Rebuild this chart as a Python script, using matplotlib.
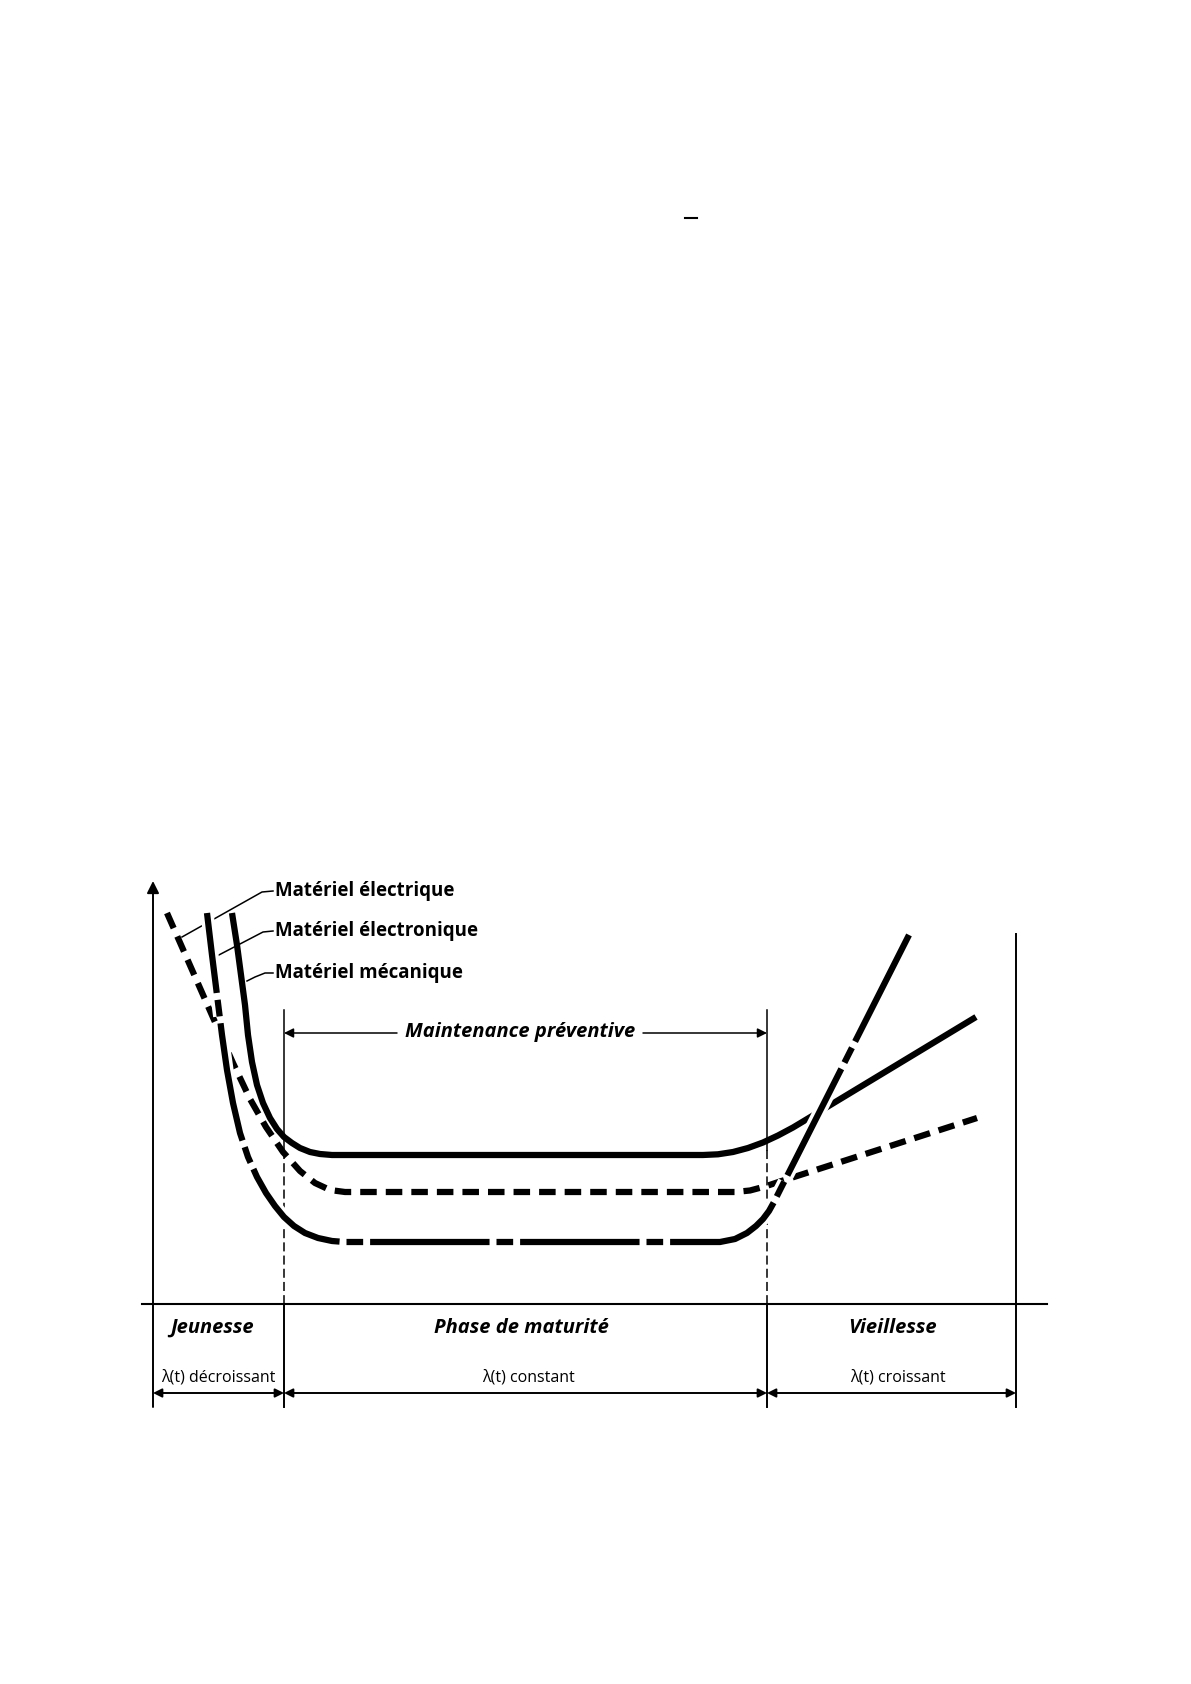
import matplotlib.pyplot as plt
import matplotlib.patheffects as pe

plt.rcParams['lines.scale_dashes'] = False
plt.rcParams['font.family'] = ['Open Sans', 'DejaVu Sans']

# curves: t = time (px from y axis), lam = failure rate (px above baseline)
t_meca = [79, 84, 88, 92, 95, 99, 104, 110, 117, 124, 131, 139, 147, 157, 167, 179,
          550, 565, 580, 595, 610, 625, 640, 655, 823]
lam_meca = [391, 359, 329, 299, 269, 242, 219, 201, 186, 175, 167, 161, 156, 152, 150, 149,
            149, 149.7, 152, 156, 161.5, 168.5, 176.5, 185.5, 287]

t_elec = [14, 80, 97, 113, 130, 147, 162, 177, 192, 582, 597, 612, 627, 824]
lam_elec = [391, 241, 205, 177, 152, 133, 121, 114, 112, 112, 113.5, 117.5, 122.5, 186]

t_tron = [54, 59, 64, 69, 74, 80, 87, 95, 104, 113, 122, 131, 141, 152, 165, 179, 192,
          567, 582, 594, 603, 610, 616, 621, 627, 757]
lam_tron = [391, 349, 309, 269, 234, 201, 171, 147, 127, 111, 98, 87, 78, 71, 66, 63, 62,
            62, 65, 71, 78, 85, 93, 102, 114, 371]

# leader lines from the labels
lead_elec_t = [120, 109, 29]
lead_elec_lam = [413, 412, 367]
lead_tron_t = [120, 110, 62]
lead_tron_lam = [373, 372, 347]
lead_meca_t = [120, 112, 102, 94]
lead_meca_lam = [331, 331, 327, 323]

labels = ['Matériel électrique', 'Matériel électronique', 'Matériel mécanique']
label_lam = [413, 373, 331]

# phases
bounds = [0, 131, 614, 863]
phases = ['Jeunesse', 'Phase de maturité', 'Vieillesse']
phase_t = [59, 368, 740]
rates = ['λ(t) décroissant', 'λ(t) constant', 'λ(t) croissant']
rate_t = [65, 375, 745]

fig = plt.figure(figsize=(11.91, 16.84), dpi=100)
ax = fig.add_axes([0, 0, 1, 1])
ax.set_xlim(-153, 1038)
ax.set_ylim(-380, 1304)
ax.axis('off')

lw = 4.5
ax.plot(t_meca, lam_meca, color='k', lw=lw, solid_capstyle='butt', solid_joinstyle='round', zorder=3)
ax.plot(t_elec, lam_elec, color='k', lw=lw, linestyle=(0, (11.9, 6.5)), dash_joinstyle='round', zorder=4)
ax.plot(t_tron, lam_tron, color='k', lw=lw, linestyle=(28, (86, 5, 12, 5)), dash_joinstyle='round',
        zorder=5, path_effects=[pe.Stroke(linewidth=lw + 5, foreground='white'), pe.Normal()])

for lt, ll in [(lead_elec_t, lead_elec_lam), (lead_tron_t, lead_tron_lam), (lead_meca_t, lead_meca_lam)]:
    ax.plot(lt, ll, color='k', lw=1.1, zorder=2)
for txt, yy in zip(labels, label_lam):
    ax.text(122, yy, txt, fontsize=13.5, fontweight='bold', ha='left', va='center')

# y axis with arrow
ax.annotate('', xy=(0, 423), xytext=(0, -103),
            arrowprops=dict(arrowstyle='-|>', lw=1.4, color='k', shrinkA=0, shrinkB=0, mutation_scale=18))
# baseline
ax.plot([-11, 894], [0, 0], color='k', lw=1.5)
# right border
ax.plot([863, 863], [370, -103], color='k', lw=1.4)

# phase limits
for b in bounds[1:3]:
    ax.plot([b, b], [294, 154], color='k', lw=1.1)
    ax.plot([b, b], [154, 0], color='k', lw=1.1, linestyle=(0, (6.5, 3)))
    ax.plot([b, b], [0, -103], color='k', lw=1.4)

# maintenance préventive
ax.annotate('', xy=(131, 271), xytext=(244, 271),
            arrowprops=dict(arrowstyle='-|>', lw=1.1, color='k', shrinkA=0, shrinkB=0, mutation_scale=14))
ax.annotate('', xy=(614, 271), xytext=(490, 271),
            arrowprops=dict(arrowstyle='-|>', lw=1.1, color='k', shrinkA=0, shrinkB=0, mutation_scale=14))
ax.text(367, 272, 'Maintenance préventive', fontsize=14.5, fontweight='bold', fontstyle='italic',
        ha='center', va='center')

for i in range(3):
    ax.text(phase_t[i], -24, phases[i], fontsize=14.5, fontweight='bold', fontstyle='italic',
            ha='center', va='center')
    ax.text(rate_t[i], -74, rates[i], fontsize=11.5, ha='center', va='center')
    ax.annotate('', xy=(bounds[i], -89), xytext=(bounds[i + 1], -89),
                arrowprops=dict(arrowstyle='<|-|>', lw=1.4, color='k', shrinkA=0, shrinkB=0, mutation_scale=13))

# small stray mark at the top of the page
ax.plot([532, 544], [1086, 1086], color='k', lw=1.5)

fig.savefig('out.png', dpi=100)
